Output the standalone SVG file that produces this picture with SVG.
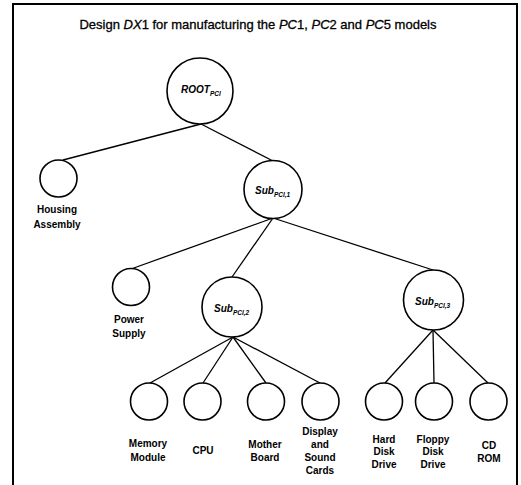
<svg xmlns="http://www.w3.org/2000/svg" width="521" height="485" viewBox="0 0 521 485">
<style>
.frame{fill:none;stroke:#000;stroke-width:2}
.node{fill:#fff;stroke:#000;stroke-width:1.6}
.edge{stroke:#000;stroke-width:1.3;fill:none}
.lbl{font-family:"Liberation Sans",Arial,sans-serif;font-size:10px;font-weight:bold;text-anchor:middle;fill:#000}
.nm{font-family:"Liberation Sans",Arial,sans-serif;font-size:10px;font-style:italic;font-weight:bold;fill:#000}
.sub{font-size:6.5px}
.title{font-family:"Liberation Sans",Arial,sans-serif;font-size:13px;text-anchor:middle;fill:#000;stroke:#000;stroke-width:0.3}
</style>
<rect class="frame" x="13" y="4" width="504" height="490"/>
<text class="title" x="258" y="29">Design <tspan font-style="italic">DX</tspan>1 for manufacturing the <tspan font-style="italic">PC</tspan>1, <tspan font-style="italic">PC</tspan>2 and <tspan font-style="italic">PC</tspan>5 models</text>
<g id="connectors">
<line class="edge" x1="201" y1="124" x2="63" y2="160"/>
<line class="edge" x1="201" y1="124" x2="273" y2="161"/>
<line class="edge" x1="273" y1="218" x2="131" y2="269"/>
<line class="edge" x1="273" y1="218" x2="232" y2="277"/>
<line class="edge" x1="273" y1="218" x2="433" y2="270"/>
<line class="edge" x1="233" y1="337" x2="150" y2="383"/>
<line class="edge" x1="233" y1="337" x2="203" y2="383"/>
<line class="edge" x1="233" y1="337" x2="266" y2="383"/>
<line class="edge" x1="233" y1="337" x2="320" y2="383"/>
<line class="edge" x1="433" y1="330" x2="385" y2="383"/>
<line class="edge" x1="433" y1="330" x2="434" y2="383"/>
<line class="edge" x1="433" y1="330" x2="488" y2="383"/>
</g>
<g id="root"><circle class="node" cx="200" cy="91" r="33"/><text class="nm" x="181" y="93">ROOT<tspan class="sub" dy="2.5">PCl</tspan></text></g>
<g id="housing"><circle class="node" cx="58.5" cy="178.5" r="18.5"/><text class="lbl" x="57" y="213">Housing</text><text class="lbl" x="57" y="228">Assembly</text></g>
<g id="sub1"><circle class="node" cx="273" cy="189.5" r="29"/><text class="nm" x="255" y="194">Sub<tspan class="sub" dy="2.5">PCl,1</tspan></text></g>
<g id="power"><circle class="node" cx="131" cy="287" r="18.5"/><text class="lbl" x="129" y="323">Power</text><text class="lbl" x="129" y="337">Supply</text></g>
<g id="sub2"><circle class="node" cx="232" cy="307" r="30"/><text class="nm" x="214" y="312">Sub<tspan class="sub" dy="2.5">PCl,2</tspan></text></g>
<g id="sub3"><circle class="node" cx="433.5" cy="300" r="30"/><text class="nm" x="415" y="305">Sub<tspan class="sub" dy="2.5">PCl,3</tspan></text></g>
<g id="memory"><circle class="node" cx="149" cy="401.5" r="18.5"/><text class="lbl" x="148" y="447">Memory</text><text class="lbl" x="148" y="461">Module</text></g>
<g id="cpu"><circle class="node" cx="202.5" cy="401.5" r="18.5"/><text class="lbl" x="203" y="454">CPU</text></g>
<g id="mother"><circle class="node" cx="266" cy="401.5" r="18.5"/><text class="lbl" x="265" y="448">Mother</text><text class="lbl" x="265" y="461">Board</text></g>
<g id="display"><circle class="node" cx="320.5" cy="401.5" r="18.5"/><text class="lbl" x="320" y="435">Display</text><text class="lbl" x="320" y="448">and</text><text class="lbl" x="320" y="461">Sound</text><text class="lbl" x="320" y="474">Cards</text></g>
<g id="hdd"><circle class="node" cx="384" cy="401.5" r="18.5"/><text class="lbl" x="384" y="443">Hard</text><text class="lbl" x="384" y="455">Disk</text><text class="lbl" x="384" y="468">Drive</text></g>
<g id="fdd"><circle class="node" cx="434" cy="401.5" r="18.5"/><text class="lbl" x="433" y="443">Floppy</text><text class="lbl" x="433" y="455">Disk</text><text class="lbl" x="433" y="468">Drive</text></g>
<g id="cdrom"><circle class="node" cx="488.5" cy="401.5" r="18.5"/><text class="lbl" x="489" y="449">CD</text><text class="lbl" x="489" y="462">ROM</text></g>
</svg>
